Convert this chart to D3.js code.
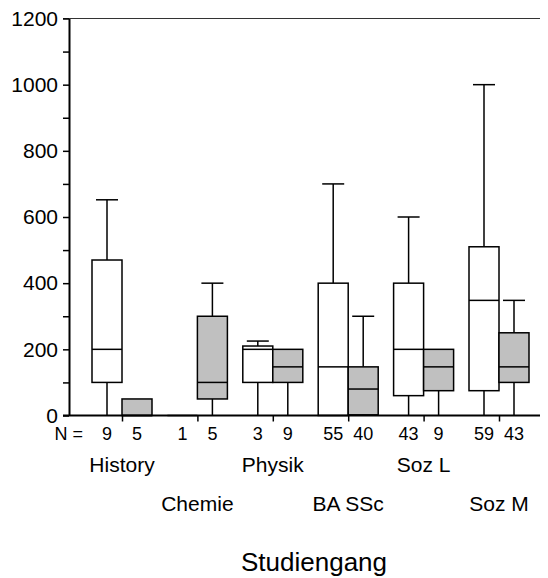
<!DOCTYPE html>
<html>
<head>
<meta charset="utf-8">
<script src="https://cdn.jsdelivr.net/npm/d3@7"></script>
<style>
	body { margin: 0; background: #fff; }
	svg { display: block; font-family: Arial, 'Liberation Sans', sans-serif; }
</style>
</head>
<body>
<svg id="chart" width="548" height="578"></svg>
<script>
// categories and box statistics (two series per category: white, grey)
const categories = ['History', 'Chemie', 'Physik', 'BA SSc', 'Soz L', 'Soz M'];

const whiteMin = [0, 0, 0, 0, 0, 0];
const whiteQ1 = [100, 0, 100, 0, 60, 75];
const whiteMedian = [200, 0, 200, 147, 200, 348];
const whiteQ3 = [470, 0, 210, 400, 400, 510];
const whiteMax = [652, 0, 225, 700, 600, 1000];
const whiteN = [9, 1, 3, 55, 43, 59];

const greyMin = [0, 0, 0, 0, 0, 0];
const greyQ1 = [0, 50, 100, 2, 75, 100];
const greyMedian = [0, 100, 147, 80, 147, 147];
const greyQ3 = [50, 300, 200, 147, 200, 250];
const greyMax = [50, 400, 200, 300, 200, 348];
const greyN = [5, 5, 9, 40, 9, 43];

const yTicks = d3.range(0, 1201, 100);
const xTitle = 'Studiengang';

function drawPlot() {
	const svg = d3.select('#chart');
	const boxW = 30;
	const capW = 22;

	const xScale = d3.scalePoint().domain(categories).range([122, 499]);
	const yScale = d3.scaleLinear().domain([0, 1200]).range([415.5, 18.5]);

	// build box records from the arrays
	const boxes = [];
	categories.forEach((c, i) => {
		boxes.push({ cat: c, side: -1, fill: '#ffffff', min: whiteMin[i], q1: whiteQ1[i], med: whiteMedian[i], q3: whiteQ3[i], max: whiteMax[i], n: whiteN[i] });
		boxes.push({ cat: c, side: 1, fill: '#c0c0c0', min: greyMin[i], q1: greyQ1[i], med: greyMedian[i], q3: greyQ3[i], max: greyMax[i], n: greyN[i] });
	});
	const cx = d => xScale(d.cat) + d.side * boxW / 2;

	// top frame line
	svg.append('line')
		.attr('x1', 63).attr('x2', 540)
		.attr('y1', yScale(1200)).attr('y2', yScale(1200))
		.attr('stroke', '#333').attr('stroke-width', 1);

	// y axis
	const yAxis = d3.axisLeft(yScale)
		.tickValues(yTicks)
		.tickSize(6)
		.tickSizeOuter(0)
		.tickPadding(5)
		.tickFormat(d => (d % 200 === 0 ? d : ''));
	const gy = svg.append('g').attr('transform', 'translate(69,0)').call(yAxis);
	gy.select('.domain').attr('stroke-width', 2);
	gy.selectAll('.tick line').attr('stroke-width', 1.5);
	gy.selectAll('.tick text').attr('font-size', 21).attr('font-family', null).attr('fill', '#000');

	// boxes
	const g = svg.append('g').attr('stroke', '#000').attr('stroke-width', 1.5);
	const bx = g.selectAll('g.box').data(boxes).join('g').attr('class', 'box');

	bx.append('line')
		.attr('x1', cx).attr('x2', cx)
		.attr('y1', d => yScale(d.max)).attr('y2', d => yScale(d.q3));
	bx.append('line')
		.attr('x1', cx).attr('x2', cx)
		.attr('y1', d => yScale(d.q1)).attr('y2', d => yScale(d.min));
	bx.filter(d => d.max > d.q3).append('line')
		.attr('x1', d => cx(d) - capW / 2).attr('x2', d => cx(d) + capW / 2)
		.attr('y1', d => yScale(d.max)).attr('y2', d => yScale(d.max));
	bx.append('rect')
		.attr('x', d => cx(d) - boxW / 2)
		.attr('width', boxW)
		.attr('y', d => yScale(d.q3))
		.attr('height', d => yScale(d.q1) - yScale(d.q3))
		.attr('fill', d => d.fill);
	bx.append('line')
		.attr('x1', d => cx(d) - boxW / 2).attr('x2', d => cx(d) + boxW / 2)
		.attr('y1', d => yScale(d.med)).attr('y2', d => yScale(d.med));

	// x axis: baseline + ticks between pairs
	svg.append('line')
		.attr('x1', 63).attr('x2', 540)
		.attr('y1', yScale(0)).attr('y2', yScale(0))
		.attr('stroke', '#000').attr('stroke-width', 2);
	const xAxis = d3.axisBottom(xScale).tickSize(6).tickFormat('');
	const gx = svg.append('g').attr('transform', `translate(0,${yScale(0)})`).call(xAxis);
	gx.select('.domain').remove();
	gx.selectAll('.tick line').attr('stroke-width', 1.5);

	// N labels
	svg.append('text')
		.attr('x', 83).attr('y', 440)
		.attr('text-anchor', 'end')
		.attr('font-size', 18)
		.text('N =');
	svg.selectAll('text.n').data(boxes).join('text')
		.attr('class', 'n')
		.attr('x', cx).attr('y', 440)
		.attr('text-anchor', 'middle')
		.attr('font-size', 18)
		.text(d => d.n);

	// category labels, staggered in two rows
	svg.selectAll('text.cat').data(categories).join('text')
		.attr('class', 'cat')
		.attr('x', d => xScale(d))
		.attr('y', (d, i) => (i % 2 === 0 ? 472 : 511))
		.attr('text-anchor', 'middle')
		.attr('font-size', 21)
		.text(d => d);

	// axis title
	svg.append('text')
		.attr('x', 314).attr('y', 571)
		.attr('text-anchor', 'middle')
		.attr('font-size', 26)
		.text(xTitle);
}

drawPlot();
</script>
</body>
</html>
